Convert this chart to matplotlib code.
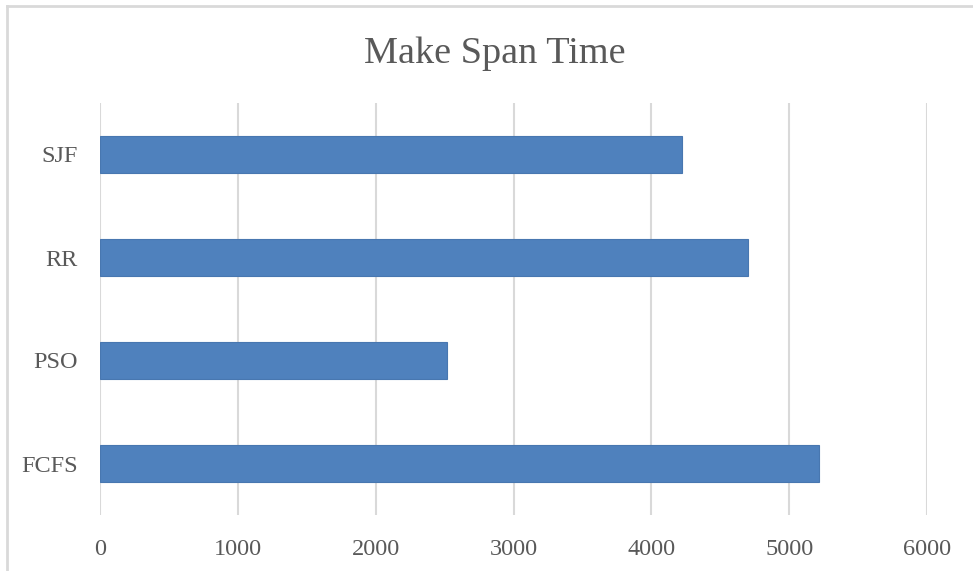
import matplotlib
matplotlib.use("Agg")
import matplotlib.pyplot as plt
from matplotlib.lines import Line2D

categories = ["FCFS", "PSO", "RR", "SJF"]
make_span = [5220, 2520, 4700, 4220]
x_ticks = [0, 1000, 2000, 3000, 4000, 5000, 6000]

BAR_COLOR = "#4f81bd"
TEXT_COLOR = "#595959"
GRID_COLOR = "#d9d9d9"

plt.rcParams["font.family"] = ["Liberation Serif", "DejaVu Serif"]

fig = plt.figure(figsize=(9.73, 5.71), dpi=100)
ax = fig.add_axes([100 / 973, 1 - 515 / 571, 827 / 973, 412 / 571])

ax.barh(range(len(categories)), make_span, height=0.355, color=BAR_COLOR,
        edgecolor="#4877b0", linewidth=0.8, zorder=3)

ax.set_xlim(0, 6000)
ax.set_ylim(-0.5, len(categories) - 0.5)
ax.set_xticks(x_ticks)
ax.set_xticklabels([str(t) for t in x_ticks])
ax.set_yticks(range(len(categories)))
ax.set_yticklabels(categories)
ax.tick_params(axis="both", length=0, labelsize=17.5, colors=TEXT_COLOR)
ax.tick_params(axis="x", pad=17)
ax.tick_params(axis="y", pad=16)

ax.grid(axis="x", color=GRID_COLOR, linewidth=1.5, zorder=0)
ax.set_axisbelow(True)
for side in ax.spines.values():
    side.set_visible(False)

fig.text(495 / 973, 1 - 54 / 571, "Make Span Time", ha="center", va="center",
         fontsize=27.5, color=TEXT_COLOR)

# light frame along the top and left edge
fig.add_artist(Line2D([7 / 973, 1], [1 - 6 / 571, 1 - 6 / 571],
                      transform=fig.transFigure, color=GRID_COLOR, linewidth=2))
fig.add_artist(Line2D([7 / 973, 7 / 973], [0, 1 - 6 / 571],
                      transform=fig.transFigure, color=GRID_COLOR, linewidth=2))

fig.savefig("out.png", dpi=100)
